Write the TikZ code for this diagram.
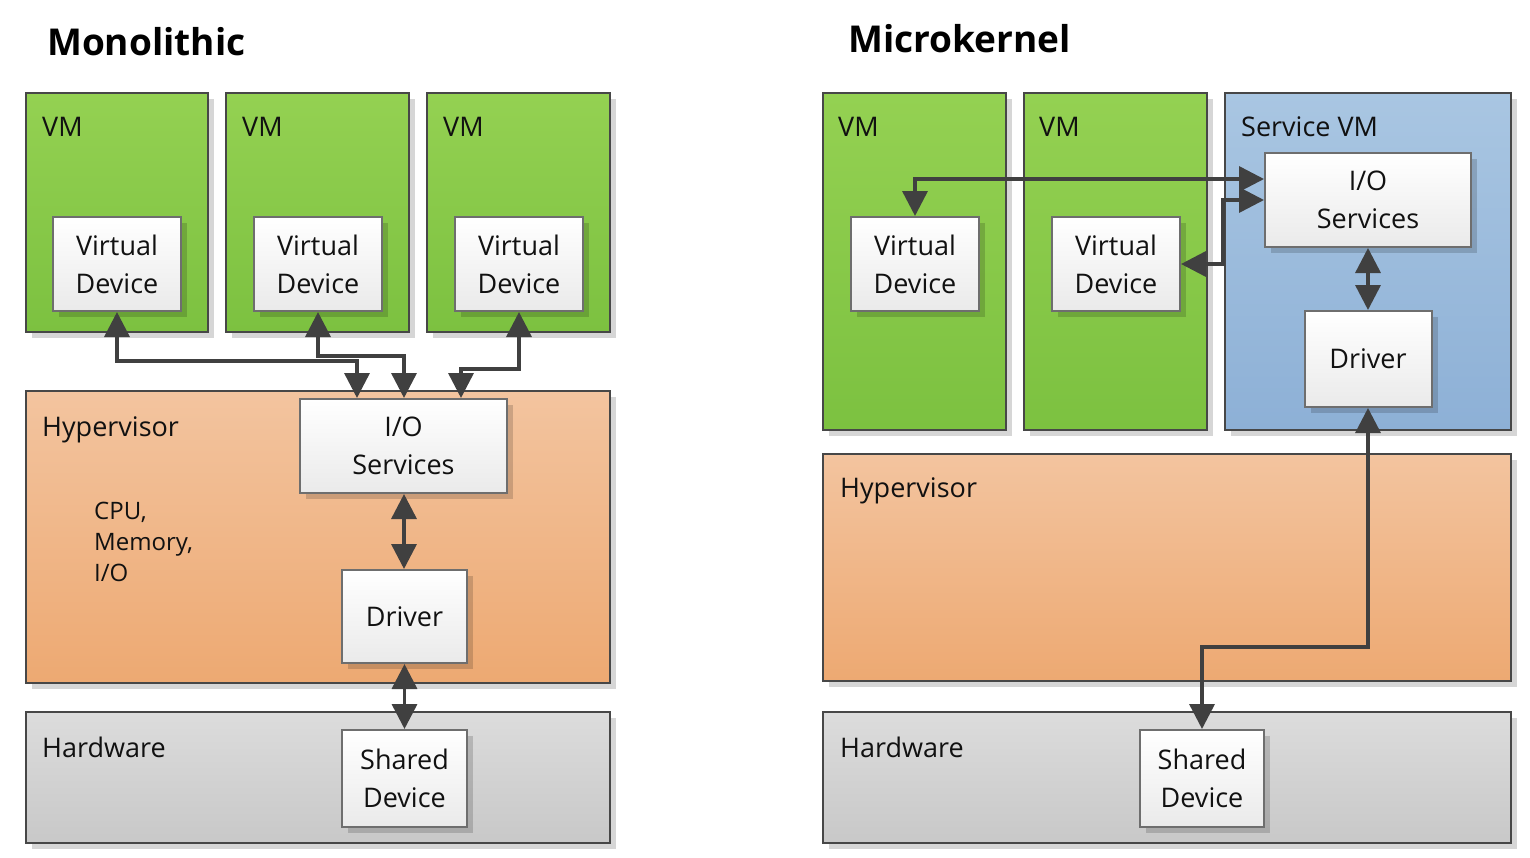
\documentclass[tikz,border=0pt]{standalone}
\usepackage{fontspec}
\setmainfont{Open Sans}
\usetikzlibrary{arrows.meta,shadows}
\definecolor{vmtop}{HTML}{94D152}
\definecolor{vmbot}{HTML}{7CC140}
\definecolor{hytop}{HTML}{F3C49F}
\definecolor{hybot}{HTML}{EDA972}
\definecolor{hwtop}{HTML}{DCDCDC}
\definecolor{hwbot}{HTML}{C8C8C8}
\definecolor{svtop}{HTML}{A9C6E2}
\definecolor{svbot}{HTML}{8DB0D6}
\definecolor{bxbot}{HTML}{EAEAEA}
\definecolor{edge}{HTML}{474747}
\definecolor{bxedge}{HTML}{6E6E6E}
\definecolor{arr}{HTML}{404040}
\definecolor{txtc}{HTML}{111111}
\begin{document}
\begin{tikzpicture}[x=1pt,y=-1pt,
  shad/.style={drop shadow={shadow xshift=6pt,shadow yshift=-6pt,fill=black,opacity=0.16}},
  cont/.style={rectangle,inner sep=0pt,line width=2.2pt,draw=edge,shad},
  vmbox/.style={cont,top color=vmtop,bottom color=vmbot},
  hybox/.style={cont,top color=hytop,bottom color=hybot},
  hwbox/.style={cont,top color=hwtop,bottom color=hwbot},
  svbox/.style={cont,top color=svtop,bottom color=svbot},
  wbox/.style={rectangle,inner sep=0pt,line width=2pt,draw=bxedge,top color=white,bottom color=bxbot,shad,
    align=center,text=txtc,font=\fontsize{27}{38}\selectfont},
  lbl/.style={anchor=base west,inner sep=0pt,text=txtc,font=\fontsize{27}{38}\selectfont},
  small/.style={anchor=base west,inner sep=0pt,text=txtc,align=left,font=\fontsize{24}{31}\selectfont},
  ttl/.style={anchor=base west,inner sep=0pt,text=black,font=\fontsize{37}{44}\selectfont\bfseries},
  conn/.style={draw=arr,line width=3.5pt,{Triangle[length=25pt,width=25pt]}-{Triangle[length=25pt,width=25pt]}}
]
\useasboundingbox (0,0) rectangle (1530,857);

% ---------- titles ----------
\node[ttl] (t1) at (47,55) {Monolithic};
\node[ttl] (t2) at (848,52) {Microkernel};

% ---------- Monolithic ----------
\node[vmbox,minimum width=182pt,minimum height=239pt] (vmL1) at (117,212.5) {};
\node[vmbox,minimum width=183pt,minimum height=239pt] (vmL2) at (317.5,212.5) {};
\node[vmbox,minimum width=183pt,minimum height=239pt] (vmL3) at (518.5,212.5) {};
\node[lbl] (vmL1t) at (42,136) {VM};
\node[lbl] (vmL2t) at (242,136) {VM};
\node[lbl] (vmL3t) at (443,136) {VM};
\node[wbox,minimum width=128pt,minimum height=94pt] (vdL1) at (117,264) {Virtual\\Device};
\node[wbox,minimum width=128pt,minimum height=94pt] (vdL2) at (318,264) {Virtual\\Device};
\node[wbox,minimum width=128pt,minimum height=94pt] (vdL3) at (519,264) {Virtual\\Device};

\node[hybox,minimum width=584pt,minimum height=292pt] (hypL) at (318,537) {};
\node[lbl] (hypLt) at (42,436) {Hypervisor};
\node[small] (cpu) at (94,581) {CPU,\\Memory,\\I/O};
\node[wbox,minimum width=207pt,minimum height=94pt] (ioL) at (403.5,446) {I/O\\Services};
\node[wbox,minimum width=125pt,minimum height=93pt] (drvL) at (404.5,616.5) {Driver};

\node[hwbox,minimum width=584pt,minimum height=131pt] (hwL) at (318,777.5) {};
\node[lbl] (hwLt) at (42,757) {Hardware};
\node[wbox,minimum width=125pt,minimum height=97pt] (shL) at (404.5,778.5) {Shared\\Device};

\draw[conn] (vdL1.south) |- ([xshift=-46.5pt,yshift=37pt]ioL.north) -- ([xshift=-46.5pt]ioL.north);
\draw[conn] (vdL2.south) |- ([xshift=0.5pt,yshift=42pt]ioL.north) -- ([xshift=0.5pt]ioL.north);
\draw[conn] (vdL3.south) |- ([xshift=57.5pt,yshift=29pt]ioL.north) -- ([xshift=57.5pt]ioL.north);
\draw[conn] ([xshift=0.5pt]ioL.south) -- ([xshift=-0.5pt]drvL.north);
\draw[conn] (drvL.south) -- (shL.north);

% ---------- Microkernel ----------
\node[vmbox,minimum width=183pt,minimum height=337pt] (vmR1) at (914.5,261.5) {};
\node[vmbox,minimum width=183pt,minimum height=337pt] (vmR2) at (1115.5,261.5) {};
\node[svbox,minimum width=286pt,minimum height=337pt] (svm) at (1368,261.5) {};
\node[lbl] (vmR1t) at (838,136) {VM};
\node[lbl] (vmR2t) at (1039,136) {VM};
\node[lbl] (svmt) at (1241,136) {Service VM};
\node[wbox,minimum width=128pt,minimum height=94pt] (vdR1) at (915,264) {Virtual\\Device};
\node[wbox,minimum width=128pt,minimum height=94pt] (vdR2) at (1116,264) {Virtual\\Device};
\node[wbox,minimum width=206pt,minimum height=94pt] (ioR) at (1368,200) {I/O\\Services};
\node[wbox,minimum width=127pt,minimum height=96pt] (drvR) at (1368,359) {Driver};

\node[hybox,minimum width=688pt,minimum height=227pt] (hypR) at (1167,567.5) {};
\node[lbl] (hypRt) at (840,497) {Hypervisor};
\node[hwbox,minimum width=688pt,minimum height=131pt] (hwR) at (1167,777.5) {};
\node[lbl] (hwRt) at (840,757) {Hardware};
\node[wbox,minimum width=124pt,minimum height=97pt] (shR) at (1202,778.5) {Shared\\Device};

\draw[conn] ([yshift=21pt]ioR.west) -| (vdR1.north);
\draw[conn] (vdR2.east) -- ++(42,0) |- (ioR.west);
\draw[conn] (ioR.south) -- (drvR.north);
\draw[conn] (drvR.south) |- ([yshift=82pt]shR.north) -- (shR.north);
\end{tikzpicture}
\end{document}
